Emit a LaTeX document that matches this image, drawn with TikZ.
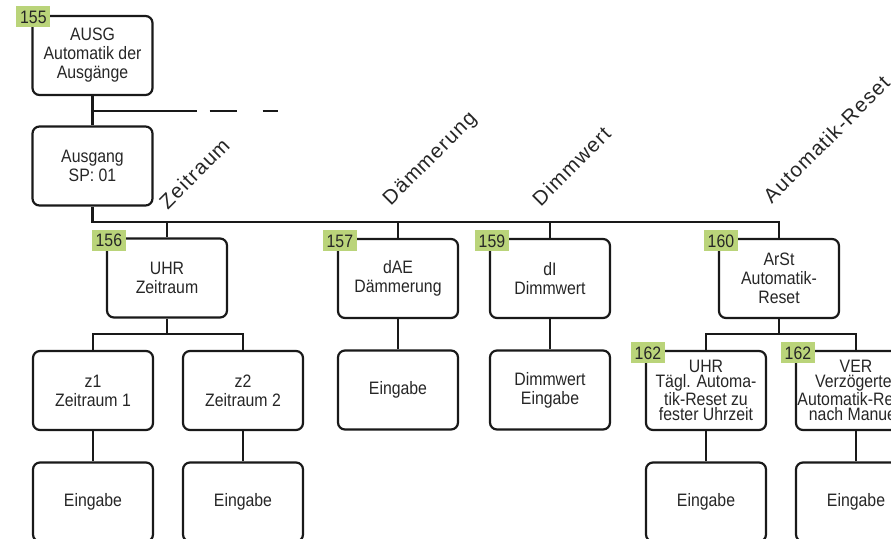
\documentclass[tikz,border=0pt]{standalone}
\usepackage{fontspec}
\setmainfont{Liberation Sans}[FakeStretch=0.88]
\newfontfamily\labelfont{Liberation Sans}[LetterSpace=6]
\usepackage{tikz}
\definecolor{tagcol}{RGB}{186,212,122}
\tikzstyle{box}=[draw, rounded corners=7pt, line width=2.2pt, minimum width=120pt, minimum height=79pt, inner sep=0pt, align=center, text=black!85, font=\fontsize{18}{19}\selectfont]
\tikzstyle{tag}=[fill=tagcol, minimum width=34pt, minimum height=21pt, inner sep=0pt, text=black!85, font=\fontsize{18}{19}\selectfont]
\tikzset{tight/.style={font=\fontsize{18}{15.5}\selectfont},
  branch/.style={rotate=45, anchor=base west, inner sep=0pt, text=black!85,
      font=\labelfont\fontsize{20.5}{24}\selectfont}}

\begin{document}
\begin{tikzpicture}[x=1pt, y=-1pt, line width=2.2pt, black!90]
    \clip (0,0) rectangle (891,538);
    % top level
    \node[box] (ausg) at (92.5,55.5) {AUSG\\Automatik der\\Ausgänge};
    \node[box] (ausgang) at (92.5,166) {Ausgang\\SP: 01};
    % second level
    \node[box] (uhr) at (167,278) {UHR\\Zeitraum};
    \node[box] (dae) at (398,278.5) {dAE\\Dämmerung};
    \node[box] (di) at (550,278.5) {dI\\Dimmwert};
    \node[box] (arst) at (779,278.5) {ArSt\\Automatik-\\Reset};
    % third level
    \node[box] (z1) at (93,390.5) {z1\\Zeitraum 1};
    \node[box] (z2) at (243,390.5) {z2\\Zeitraum 2};
    \node[box] (daein) at (398,390) {Eingabe};
    \node[box] (diin) at (550,390) {Dimmwert\\Eingabe};
    \node[box, tight] (uhrrs) at (706,390.5) {UHR\\Tägl. Automa-\\tik-Reset zu\\fester Uhrzeit};
    \node[box, tight] (verrs) at (856,390.5) {VER\\Verzögerter\\Automatik-Reset\\nach Manuell};
    % inputs
    \node[box] (z1in) at (93,502) {Eingabe};
    \node[box] (z2in) at (243,502) {Eingabe};
    \node[box] (uhrin) at (706,502) {Eingabe};
    \node[box] (verin) at (856,502) {Eingabe};
    % tags
    \node[tag] (t155) at ([shift={(2,2)}]ausg.north west) {155};
    \node[tag] (t156) at ([shift={(3,3)}]uhr.north west) {156};
    \node[tag] (t157) at ([shift={(3,3)}]dae.north west) {157};
    \node[tag] (t159) at ([shift={(3,3)}]di.north west) {159};
    \node[tag] (t160) at ([shift={(3,3)}]arst.north west) {160};
    \node[tag] (t162a) at ([shift={(3,3)}]uhrrs.north west) {162};
    \node[tag] (t162b) at ([shift={(3,3)}]verrs.north west) {162};
    % branch labels
    \node[branch] (lzeit) at (167,211) {Zeitraum};
    \node[branch] (ldae) at (390,207) {Dämmerung};
    \node[branch] (ldi) at (540,208) {Dimmwert};
    \node[branch] (lauto) at (771,205) {Automatik-Reset};
    % lines
    \coordinate (j0) at (92.5,111);
    \coordinate (more) at (278,111);
    \coordinate (bus) at (92.5,222);
    \coordinate (uhrj) at (167,334);
    \coordinate (arstj) at (779,334);
    \draw (ausg) -- (ausgang);
    \draw[dash pattern=on 104pt off 13pt on 27pt off 26pt on 15pt off 20pt] (j0) -- (more);
    \draw (ausgang) -- (bus) -| (arst);
    \draw (uhr) -- (uhr |- bus);
    \draw (dae) -- (dae |- bus);
    \draw (di) -- (di |- bus);
    \draw (uhr) -- (uhrj);
    \draw (z1) |- (uhrj) -| (z2);
    \draw (arst) -- (arstj);
    \draw (uhrrs) |- (arstj) -| (verrs);
    \draw (dae) -- (daein);
    \draw (di) -- (diin);
    \draw (z1) -- (z1in);
    \draw (z2) -- (z2in);
    \draw (uhrrs) -- (uhrin);
    \draw (verrs) -- (verin);
\end{tikzpicture}
\end{document}
